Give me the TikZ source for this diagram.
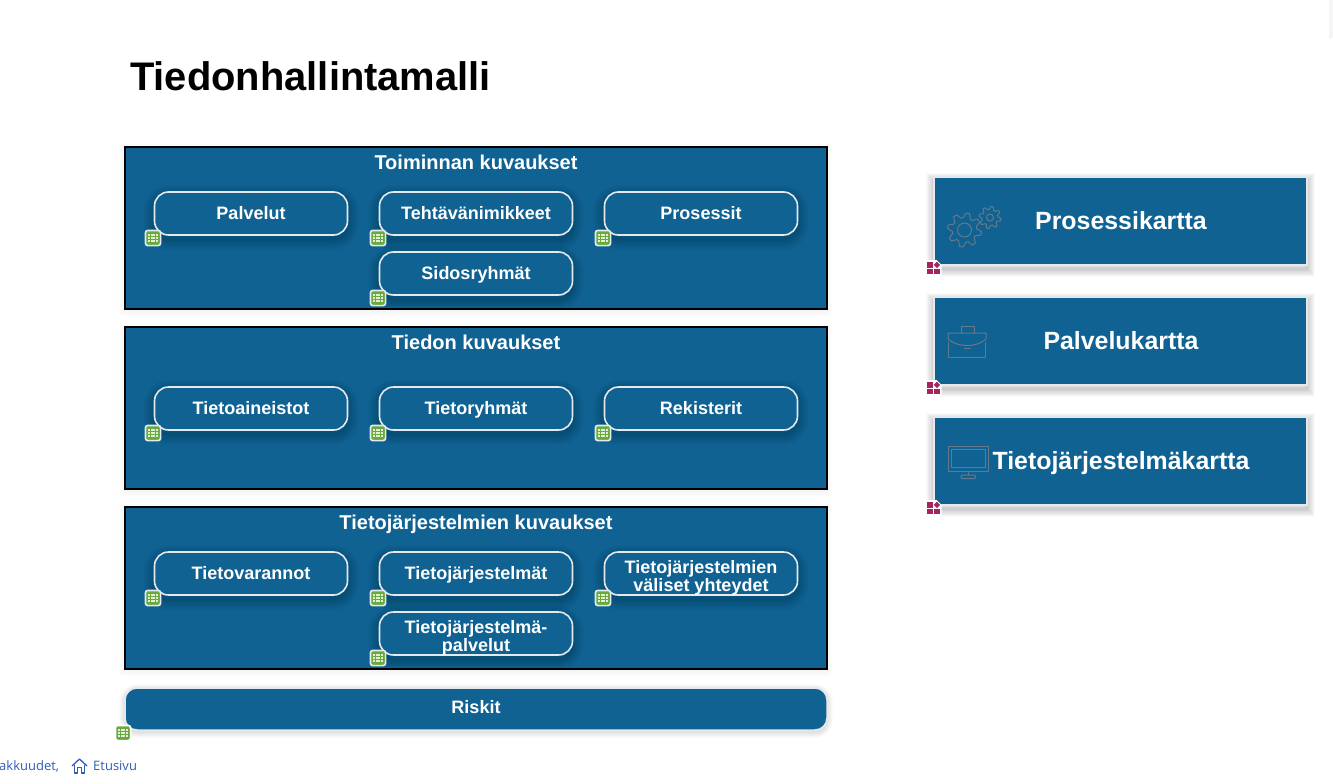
\documentclass[tikz,border=0pt]{standalone}
\usepackage{fontspec}
\setmainfont{Liberation Sans}
\newfontfamily\footfont{Open Sans}
\usetikzlibrary{shapes.geometric}
\definecolor{bluefill}{HTML}{106293}
\definecolor{edgewhite}{HTML}{E4E9ED}
\definecolor{icongrey}{HTML}{66798A}
\definecolor{tablegreen}{HTML}{6AAA3C}
\definecolor{mapred}{HTML}{A3245E}
\definecolor{linkblue}{HTML}{2F5DB8}
\tikzset{
  x=1pt,y=-1pt,
  shstep/.style args={#1/#2/#3}{preaction={draw=black,draw opacity=#3,line width=#1,fill=none,transform canvas={yshift=-#2}}},
  softshadow/.style args={#1/#2/#3}{
    shstep={#1*1.0/#2/#3},shstep={#1*0.9/#2/#3},shstep={#1*0.8/#2/#3},shstep={#1*0.7/#2/#3},
    shstep={#1*0.6/#2/#3},shstep={#1*0.5/#2/#3},shstep={#1*0.4/#2/#3},shstep={#1*0.3/#2/#3},
    shstep={#1*0.2/#2/#3},shstep={#1*0.1/#2/#3}},
  panel/.style={draw=black,line width=2pt,fill=bluefill,minimum width=702pt,minimum height=162pt,inner sep=0pt,softshadow=12pt/2pt/.005},
  panelhead/.style={text=white,font=\fontsize{20}{22}\selectfont\bfseries,inner sep=0pt,text height=15.5pt,text depth=3pt},
  itembox/.style={draw=edgewhite,line width=1.6pt,fill=bluefill,rounded corners=14pt,minimum width=193pt,minimum height=43pt,inner sep=0pt,align=center,text=white,font=\fontsize{18}{18}\selectfont\bfseries,softshadow=22pt/4pt/.018},
  itemtext/.style={text height=14pt,text depth=3pt},
  itemlabel/.style={text=white,align=center,inner sep=0pt,font=\fontsize{18}{18}\selectfont\bfseries},
  card/.style={draw=edgewhite,line width=2pt,fill=bluefill,minimum width=373pt,minimum height=88pt,inner sep=0pt,softshadow=16pt/4pt/.02},
  cardtext/.style={text=white,font=\fontsize{24.9}{26}\selectfont\bfseries,inner sep=0pt,text height=20pt,text depth=3.5pt},
  riskbox/.style={draw=edgewhite,line width=1.5pt,fill=bluefill,rounded corners=12pt,minimum width=702pt,minimum height=42pt,inner sep=0pt,text=white,font=\fontsize{18}{18}\selectfont\bfseries,text height=13pt,text depth=4pt,softshadow=12pt/2pt/.01},
  icnline/.style={draw=icongrey,line width=1pt,fill=none,line join=round},
  tableicon/.pic={
    \draw[draw=#1,line width=1.7pt,fill=tablegreen,rounded corners=2.5pt] (-7.6,-7.6) rectangle (7.6,7.6);
    \foreach \cx in {-4.2,-1.4,1.4,4.2}\foreach \cy in {-3.2,0,3.2}
      \fill[white,opacity=.8] (\cx-.95,\cy-.95) rectangle (\cx+.95,\cy+.95);
  },
  mapicon/.pic={
    \fill[white] (-8,-8) -- (3,-8) -- (8,-3) -- (8,8) -- (-8,8) -- cycle;
    \fill[mapred] (-6.5,-5.7) rectangle (-.8,-.2);
    \fill[mapred] (-6.5,.9) rectangle (-.8,6.4);
    \fill[mapred] (.4,.9) rectangle (6.2,6.4);
    \fill[mapred] (3.4,-6.3) -- (6.6,-3.1) -- (3.4,.1) -- (.2,-3.1) -- cycle;
  }
}
\newcommand{\gearshape}[4]{%
  \draw[icnline] plot[smooth cycle,samples=#4*8,domain=0:{360-360/(#4*8)},variable=\t]
    ({#1+#3*(0.86+0.14*max(-1,min(1,2.2*sin(#4*\t))))*cos(\t)},{#2+#3*(0.86+0.14*max(-1,min(1,2.2*sin(#4*\t))))*sin(\t)});}
\begin{document}
\begin{tikzpicture}
\useasboundingbox (0,0) rectangle (1333,784);
\fill[white] (0,0) rectangle (1333,784);
\fill[black!4] (1329,0) rectangle (1333,38);

\node[anchor=west,inner sep=0pt,font=\fontsize{39.9}{44}\selectfont\bfseries] (title) at (130,76) {Tiedonhallintamalli};

% panels
\node[panel] (p1) at (475.5,228) {};
\node[panel] (p2) at (475.5,408) {};
\node[panel] (p3) at (475.5,588) {};
\node[panelhead] (h1) at (476,163) {Toiminnan kuvaukset};
\node[panelhead] (h2) at (476,343) {Tiedon kuvaukset};
\node[panelhead] (h3) at (476,523) {Tietojärjestelmien kuvaukset};

% item boxes
\node[itembox,itemtext] (a1) at (251,213.5) {Palvelut};
\node[itembox,itemtext] (a2) at (476,213.5) {Tehtävänimikkeet};
\node[itembox,itemtext] (a3) at (701,213.5) {Prosessit};
\node[itembox,itemtext] (a4) at (476,273.5) {Sidosryhmät};
\node[itembox,itemtext] (b1) at (251,408.5) {Tietoaineistot};
\node[itembox,itemtext] (b2) at (476,408.5) {Tietoryhmät};
\node[itembox,itemtext] (b3) at (701,408.5) {Rekisterit};
\node[itembox,itemtext] (c1) at (251,573.5) {Tietovarannot};
\node[itembox,itemtext] (c2) at (476,573.5) {Tietojärjestelmät};
\node[itembox] (c3) at (701,573.5) {};
\node[itembox] (c4) at (476,633.5) {};
\node[itemlabel] (c3t) at (701,577.5) {Tietojärjestelmien\\väliset yhteydet};
\node[itemlabel] (c4t) at (476,637.5) {Tietojärjestelmä-\\palvelut};
\node[riskbox] (risk) at (476,709) {Riskit};

\foreach \px/\py in {153/238,378/238,603/238,378/298,153/433,378/433,603/433,153/598,378/598,603/598,378/658}
  \pic at (\px,\py) {tableicon={edgewhite}};
\pic at (123,733) {tableicon={white}};

% cards
\node[card] (k1) at (1120.5,221) {};
\node[card] (k2) at (1120.5,341) {};
\node[card] (k3) at (1120.5,461) {};
\node[cardtext] (k1t) at (1121,221) {Prosessikartta};
\node[cardtext] (k2t) at (1121,341) {Palvelukartta};
\node[cardtext] (k3t) at (1121,461) {Tietojärjestelmäkartta};
\foreach \py in {268,388,508}
  \pic at (933.5,\py) {mapicon};

% gears
\gearshape{964.5}{230}{17}{8}
\draw[icnline] (964.5,230) circle (7);
\gearshape{990}{217.5}{11}{8}
\draw[icnline] (990,217.5) circle (3.5);

% briefcase
\draw[icnline] (961,333) -- (961,326.5) -- (974,326.5) -- (974,333);
\draw[icnline] (948,333) -- (986,333) -- (986,339) .. controls (980,344) and (974,345.5) .. (967,345.5) .. controls (960,345.5) and (954,344) .. (948,339) -- cycle;
\draw[icnline] (948.5,342) -- (948.5,357.5) -- (985.5,357.5) -- (985.5,342);
\draw[icnline] (963.5,348.5) -- (970.5,348.5);

% monitor
\draw[icnline] (948,446.5) rectangle (988,471);
\draw[icnline] (951,449.5) rectangle (985,467.5);
\draw[icnline] (968,471) -- (968,475);
\draw[icnline,rounded corners=1pt] (961,475) rectangle (975.5,478.5);

% footer
\node[anchor=west,inner sep=0pt,text=linkblue,font=\footfont\fontsize{13}{15}\selectfont] (f1) at (-1,766) {akkuudet,};
\draw[draw=linkblue,line width=1.3pt,line join=round] (72,766) -- (79.5,759) -- (87,766);
\draw[draw=linkblue,line width=1.3pt,line join=round] (74.5,764.5) -- (74.5,773) -- (77.5,773) -- (77.5,767.5) -- (81.5,767.5) -- (81.5,773) -- (84.5,773) -- (84.5,764.5);
\node[anchor=west,inner sep=0pt,text=linkblue,font=\footfont\fontsize{13}{15}\selectfont] (f2) at (93,766) {Etusivu};
\end{tikzpicture}
\end{document}
